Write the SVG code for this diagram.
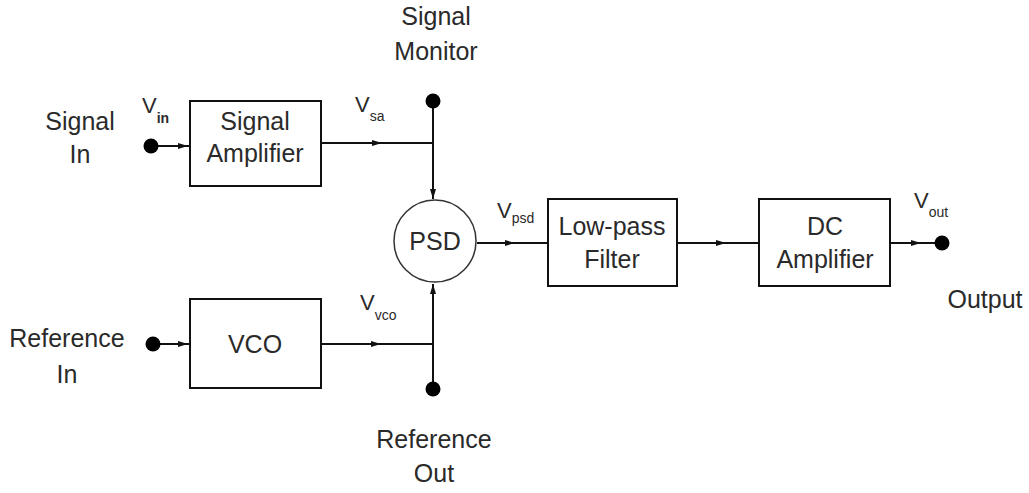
<svg xmlns="http://www.w3.org/2000/svg" width="1029" height="493" viewBox="0 0 1029 493">
<style>
text{font-family:"Liberation Sans",Arial,sans-serif;fill:#2a2a2a;}
.t{font-size:25px;text-anchor:middle;}
.v{font-size:22px;}
.s{font-size:14px;}
.b{font-weight:bold;}
.box{fill:#fff;stroke:#111;stroke-width:2;}
.c{fill:none;stroke:#111;stroke-width:2;}
.m{marker-mid:url(#a);}
.e{marker-end:url(#a);}
.dot{fill:#000;}
</style>
<defs>
<marker id="a" viewBox="0 0 10 6" refX="10" refY="3" markerWidth="10" markerHeight="6" markerUnits="userSpaceOnUse" orient="auto">
<path d="M0,0 L10,3 L0,6 Z" fill="#111"/>
</marker>
</defs>
<g id="connectors">
<path class="c m" d="M151,146 H188 H190"/>
<path class="c m" d="M153,344 H188 H190"/>
<path class="c m" d="M321,143 H382 H433"/>
<path class="c e" d="M433,101 V199"/>
<path class="c m" d="M321,344 H381 H433"/>
<path class="c e" d="M433,389 V284"/>
<path class="c m" d="M477,243 H515 H548"/>
<path class="c m" d="M677,243 H726 H759"/>
<path class="c m" d="M890,243 H921 H942"/>
</g>
<g id="signal-in">
<circle class="dot" cx="151" cy="146" r="7.5"/>
<text class="t" x="80" y="130">Signal</text>
<text class="t" x="80" y="163">In</text>
<text class="v" x="142" y="113">V<tspan class="s b" dy="10">in</tspan></text>
</g>
<g id="reference-in">
<circle class="dot" cx="153" cy="344" r="7.5"/>
<text class="t" x="67" y="347">Reference</text>
<text class="t" x="67" y="383">In</text>
</g>
<g id="signal-amplifier">
<rect class="box" x="190" y="101" width="131" height="85"/>
<text class="t" x="255" y="130">Signal</text>
<text class="t" x="255" y="162">Amplifier</text>
</g>
<g id="vco">
<rect class="box" x="190" y="299" width="131" height="89"/>
<text class="t" x="255" y="353">VCO</text>
</g>
<g id="signal-monitor">
<circle class="dot" cx="433" cy="101" r="7.5"/>
<text class="t" x="436" y="25">Signal</text>
<text class="t" x="436" y="60">Monitor</text>
<text class="v" x="355" y="112">V<tspan class="s" dy="9">sa</tspan></text>
</g>
<g id="reference-out">
<circle class="dot" cx="433" cy="389" r="7.5"/>
<text class="t" x="434" y="448">Reference</text>
<text class="t" x="434" y="482">Out</text>
<text class="v" x="360" y="310">V<tspan class="s" dy="10">vco</tspan></text>
</g>
<g id="psd">
<circle cx="435" cy="241" r="41" fill="#fff" stroke="#333" stroke-width="1.5"/>
<text class="t" x="435" y="250">PSD</text>
<text class="v" x="497" y="218">V<tspan class="s" dy="5">psd</tspan></text>
</g>
<g id="low-pass-filter">
<rect class="box" x="548" y="199" width="129" height="87"/>
<text class="t" x="612" y="235">Low-pass</text>
<text class="t" x="612" y="268">Filter</text>
</g>
<g id="dc-amplifier">
<rect class="box" x="759" y="199" width="131" height="87"/>
<text class="t" x="825" y="235">DC</text>
<text class="t" x="825" y="268">Amplifier</text>
</g>
<g id="output">
<circle class="dot" cx="942" cy="243" r="7.5"/>
<text class="t" x="985" y="308">Output</text>
<text class="v" x="914" y="208">V<tspan class="s" dy="9">out</tspan></text>
</g>
</svg>
